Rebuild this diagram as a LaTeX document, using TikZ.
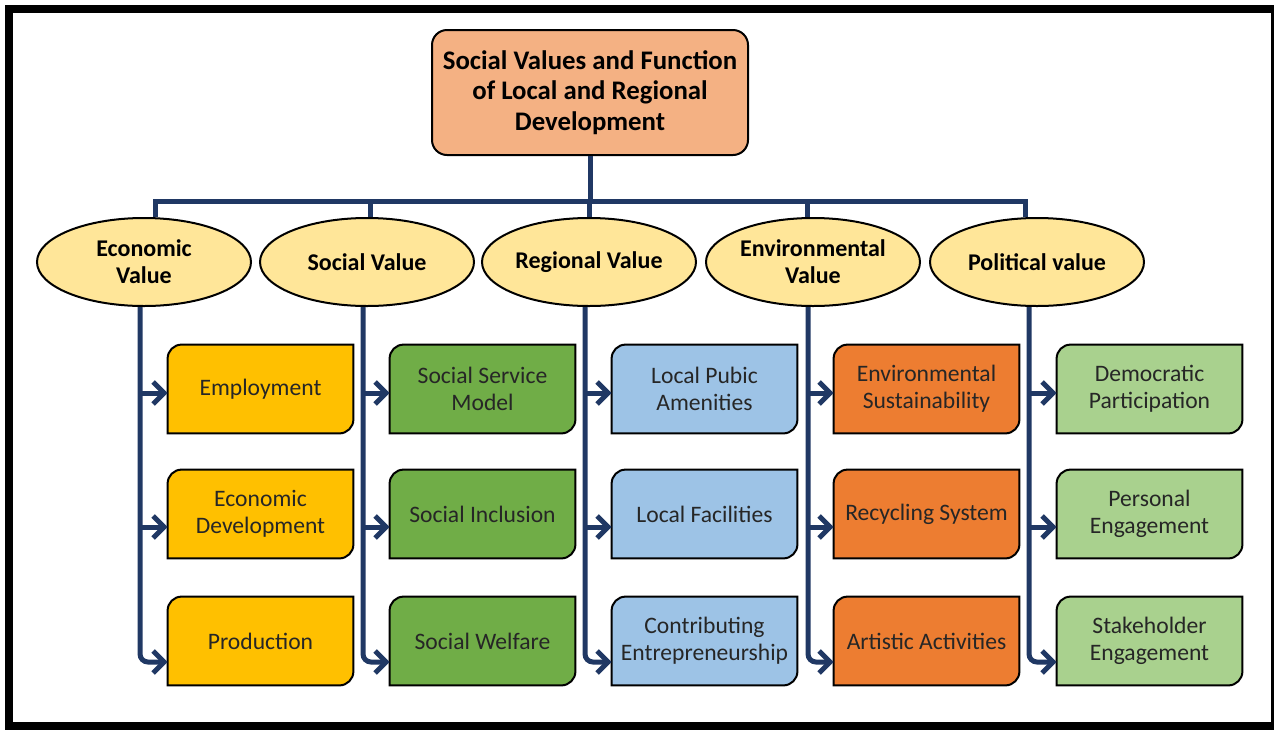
\documentclass[tikz,border=0pt]{standalone}
\usepackage{fontspec}
\setmainfont{Carlito}
\usetikzlibrary{positioning,arrows.meta,shapes.geometric,backgrounds}

\definecolor{linkblue}{HTML}{203864}
\definecolor{rootfill}{HTML}{F4B183}
\definecolor{valfill}{HTML}{FFE699}
\definecolor{econfill}{HTML}{FFC000}
\definecolor{socfill}{HTML}{70AD47}
\definecolor{regfill}{HTML}{9DC3E6}
\definecolor{envfill}{HTML}{ED7D31}
\definecolor{polfill}{HTML}{A9D18E}

% box with round top-left and bottom-right corners, drawn behind a node
\newcommand\leafshape[2]{%
  \draw[line width=1pt, fill=#2] (#1.south west) -- ([yshift=-7pt]#1.north west)
    arc[start angle=180, end angle=90, radius=7pt] -- (#1.north east)
    -- ([yshift=7pt]#1.south east)
    arc[start angle=0, end angle=-90, radius=7pt] -- cycle;}

\begin{document}
\begin{tikzpicture}[x=0.5pt, y=-0.5pt,
    root/.style={draw, line width=1pt, fill=rootfill, rounded corners=7.5pt,
      minimum width=158pt, minimum height=62.5pt, align=center, inner sep=2pt,
      font=\bfseries\fontsize{13.4}{15.2}\selectfont},
    value/.style={ellipse, draw, line width=1pt, fill=valfill, inner sep=0pt,
      minimum width=107pt, minimum height=44pt, align=center,
      font=\bfseries\fontsize{12}{13.5}\selectfont},
    leaf/.style={minimum width=92.5pt, minimum height=44pt, inner sep=0pt,
      align=center, text=black!85, font=\fontsize{11.8}{13.5}\selectfont},
    bus/.style={linkblue, line width=2.5pt},
    link/.style={bus, rounded corners=4pt, -{Straight Barb[length=5.5pt, width=11pt]}}
]
\useasboundingbox (0,0) rectangle (1274,729);

% outer frame
\draw[line width=4pt] (9,9) rectangle (1275,726);

% Root
\node[root] (root) at (590,92.5) {Social Values and Function\\of Local and Regional\\Development};

% Value groups
\node[value] (econ) at (144,262) {Economic\\Value};
\node[value] (soc)  at (367,262) {Social Value};
\node[value] (reg)  at (589,262) {Regional Value};
\node[value] (env)  at (813,262) {Environmental\\Value};
\node[value] (pol)  at (1037,262) {Political value};

% Economic
\node[leaf] (econ1) at (260.5,389) {Employment};
\node[leaf] (econ2) at (260.5,514) {Economic\\Development};
\node[leaf] (econ3) at (260.5,641) {Production};

% Social
\node[leaf] (soc1) at (482.5,389) {Social Service\\Model};
\node[leaf] (soc2) at (482.5,514) {Social Inclusion};
\node[leaf] (soc3) at (482.5,641) {Social Welfare};

% Regional
\node[leaf] (reg1) at (704.5,389) {Local Pubic\\Amenities};
\node[leaf] (reg2) at (704.5,514) {Local Facilities};
\node[leaf] (reg3) at (704.5,641) {Contributing\\Entrepreneurship};

% Environmental
\node[leaf] (env1) at (926.5,389) {Environmental\\Sustainability};
\node[leaf] (env2) at (926.5,514) {Recycling System};
\node[leaf] (env3) at (926.5,641) {Artistic Activities};

% Political
\node[leaf] (pol1) at (1149.5,389) {Democratic\\Participation};
\node[leaf] (pol2) at (1149.5,514) {Personal\\Engagement};
\node[leaf] (pol3) at (1149.5,641) {Stakeholder\\Engagement};

\begin{pgfonlayer}{background}
\foreach \v/\c in {econ/econfill,soc/socfill,reg/regfill,env/envfill,pol/polfill}
  \foreach \i in {1,2,3}
    \leafshape{\v\i}{\c};
\end{pgfonlayer}

% bus from root to the value groups
\coordinate (hub) at (590,201);
\draw[bus] (root.south) -- (hub);
\draw[bus] ([xshift=5.5pt]econ.north) -- ([xshift=5.5pt]econ.north |- hub)
  -- ([xshift=-6pt]pol.north |- hub) -- ([xshift=-6pt]pol.north);
\foreach \v/\dx in {soc/1.5pt,reg/0pt,env/-3pt}
  \draw[bus] ([xshift=\dx]\v.north) -- ([xshift=\dx]\v.north |- hub);

% stems with arrows into the boxes
\foreach \v/\dx in {econ/-2pt,soc/-2pt,reg/-2pt,env/-2.5pt,pol/-4pt} {
  \draw[link] ([xshift=\dx]\v.south) |- ([yshift=-10.5pt]\v3.west);
  \draw[link] ([xshift=\dx, yshift=-2pt]\v.south |- \v1.west) -- ([yshift=-2pt]\v1.west);
  \draw[link] ([xshift=\dx, yshift=-6.5pt]\v.south |- \v2.west) -- ([yshift=-6.5pt]\v2.west);
}

\end{tikzpicture}
\end{document}
